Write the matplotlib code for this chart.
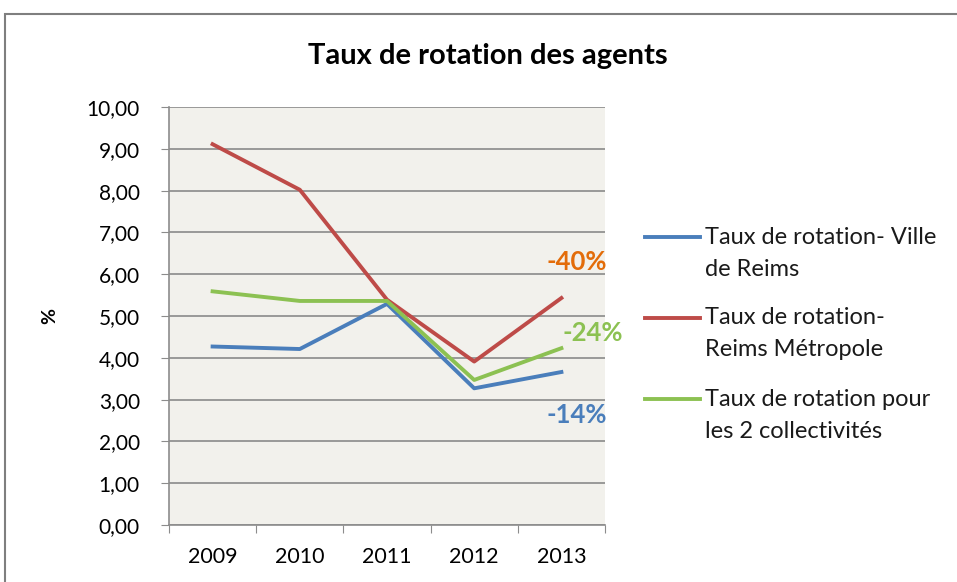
import matplotlib
matplotlib.use("Agg")
import matplotlib.pyplot as plt
from matplotlib.patches import Rectangle
from matplotlib.lines import Line2D

years = ["2009", "2010", "2011", "2012", "2013"]
ville = [4.27, 4.21, 5.29, 3.27, 3.66]
metropole = [9.11, 8.02, 5.39, 3.91, 5.43]
total = [5.59, 5.36, 5.36, 3.47, 4.23]
labels = ["Taux de rotation- Ville\nde Reims",
          "Taux de rotation-\nReims Métropole",
          "Taux de rotation pour\nles 2 collectivités"]
evolutions = ["-40%", "-24%", "-14%"]
colors = ["#4a7ebb", "#be4b48", "#8cc152"]

plt.rcParams["font.family"] = ["Lato", "DejaVu Sans"]

fig = plt.figure(figsize=(9.57, 5.82), dpi=100)
ax = fig.add_axes([169 / 957, 1 - 525 / 582, 436 / 957, 418 / 582])

# outer frame of the chart (only top and left edges are visible)
fig.add_artist(Rectangle((5 / 957, -0.1), 1.1, 1 - 14 / 582 + 0.1,
                         transform=fig.transFigure, fill=False,
                         edgecolor="#7f7f7f", lw=1.5))

ax.set_facecolor("#f2f1ec")
x = range(len(years))
for series, c in zip([ville, metropole, total], colors):
    ax.plot(x, series, color=c, lw=2.8)

ax.set_xlim(-0.5, len(years) - 0.5)
ax.set_ylim(0, 10)
ax.set_yticks(range(0, 11))
ax.set_yticklabels([f"{v:.2f}".replace(".", ",") for v in range(0, 11)], fontsize=15)
ax.set_xticks([i - 0.5 for i in range(len(years) + 1)])
ax.set_xticklabels([])
ax.set_xticks(list(x), minor=True)
ax.set_xticklabels(years, minor=True, fontsize=15.5)
ax.tick_params(axis="x", which="major", length=6, color="#8c8c8c", direction="out")
ax.tick_params(axis="x", which="minor", length=0, pad=16)
ax.tick_params(axis="y", length=6, color="#8c8c8c", pad=15)
ax.grid(axis="y", color="#8a8a8a", lw=1.2)
ax.set_axisbelow(True)
for side in ["top", "right"]:
    ax.spines[side].set_visible(False)
for side in ["left", "bottom"]:
    ax.spines[side].set_color("#8c8c8c")
    ax.spines[side].set_linewidth(1.2)

ax.set_ylabel("%", fontsize=14, fontweight="bold")
ax.yaxis.set_label_coords((58 - 169) / 436, 0.5)
fig.text(488 / 957, 1 - 56 / 582, "Taux de rotation des agents",
         ha="center", va="center", fontsize=21, fontweight="bold")

ax.text(4.18, 6.29, evolutions[0], color="#e36c09", fontsize=18.5,
        fontweight="bold", ha="center", va="center", clip_on=False)
ax.text(4.36, 4.59, evolutions[1], color=colors[2], fontsize=18.5,
        fontweight="bold", ha="center", va="center", clip_on=False)
ax.text(4.18, 2.63, evolutions[2], color=colors[0], fontsize=18.5,
        fontweight="bold", ha="center", va="center", clip_on=False)

# legend drawn by hand: handle aligned with the first line of each label
for i, (lab, c) in enumerate(zip(labels, colors)):
    y0 = 1 - (237 + 81 * i) / 582
    fig.add_artist(Line2D([645 / 957, 700 / 957], [y0, y0], color=c, lw=2.8,
                          transform=fig.transFigure))
    for j, line in enumerate(lab.split("\n")):
        fig.text(705 / 957, y0 - j * 32 / 582, line, ha="left",
                 va="center", fontsize=17, color="#1a1a1a")

fig.savefig("out.png", dpi=100)
